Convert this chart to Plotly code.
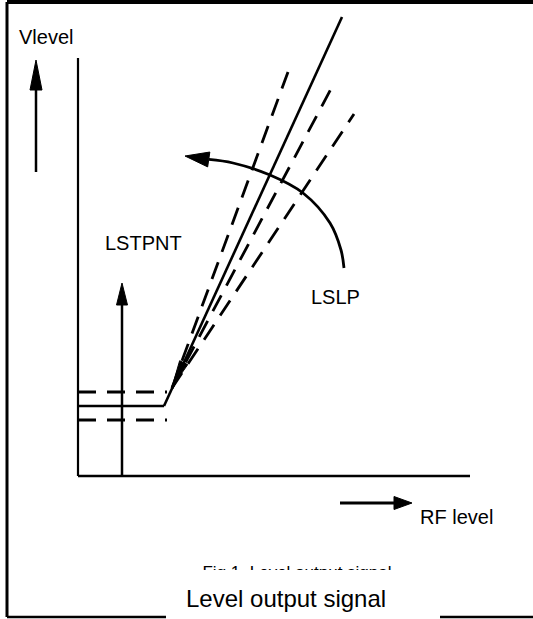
import math
import plotly.graph_objects as go

# ---------------- diagram data ----------------
# units: horizontal = RF level, vertical = Vlevel; origin at the axes corner
axis_x_rf = [0, 392]
axis_x_v = [0, 0]
axis_y_rf = [0, 0]
axis_y_v = [0, 418]

floor_rf = [0, 86]
floor_v = [70, 70]
band_rf = [0, 89]
band_hi_v = [84, 84]
band_lo_v = [56, 56]

slope_rf = [86, 264]
slope_v = [70, 459]

alt_start_rf = 94
alt_start_v = 88
alt_end_rf = [210, 254, 276]
alt_end_v = [404, 389, 362]

lstpnt_rf = [44, 44]
lstpnt_v = [-1, 193]

vlevel_arrow_rf = [-42, -42]
vlevel_arrow_v = [304, 416]

rf_arrow_rf = [262, 334]
rf_arrow_v = [-27, -27]

lslp_curve_rf = [266, 263, 252, 225, 192, 155, 107]
lslp_curve_v = [208, 226, 253, 283, 301, 313, 320]

knee_head_rf = [106, 94]
knee_head_v = [114, 89]

label_text = ["Vlevel", "LSTPNT", "LSLP", "RF level"]
label_rf = [-61, 25, 231, 340]
label_v = [439, 233, 179, -41]

caption_text = "Fig 1. Level output signal"
caption_rf = 219
caption_v = -98
title_text = "Level output signal"
title_rf = 208
title_v = -122
title_box_rf = [88, 362]
title_box_v = [-94, -143]

# frame (left, top, bottom pieces)
frame_left_rf = [-71, -71]
frame_left_v = [474, -141]
frame_top_rf = [-71, 455]
frame_top_v = [474, 474]
frame_bot1_rf = [-71, 88]
frame_bot2_rf = [362, 455]
frame_bot_v = [-141, -141]

BLACK = "#000000"
FONT = "Liberation Sans, Arial, sans-serif"
DASH = "18px,11px"

fig = go.Figure()


def line(xs, ys, width=2, dash="solid", shape="linear"):
    fig.add_trace(go.Scatter(x=xs, y=ys, mode="lines",
                             line=dict(color=BLACK, width=width, dash=dash, shape=shape),
                             hoverinfo="skip"))


def head_points(x0, y0, x1, y1, length, width):
    dx, dy = x1 - x0, y1 - y0
    n = math.hypot(dx, dy)
    ux, uy = dx / n, dy / n
    bx, by = x1 - ux * length, y1 - uy * length
    px, py = -uy * width / 2, ux * width / 2
    return (bx, by), [x1, bx + px, bx - px, x1], [y1, by + py, by - py, y1]


def arrow(xs, ys, length, width, lw=2.5, shape="linear"):
    base, hx, hy = head_points(xs[-2], ys[-2], xs[-1], ys[-1], length, width)
    line(list(xs[:-1]) + [base[0]], list(ys[:-1]) + [base[1]], width=lw, shape=shape)
    fig.add_trace(go.Scatter(x=hx, y=hy, mode="lines", fill="toself",
                             fillcolor=BLACK, line=dict(color=BLACK, width=1),
                             hoverinfo="skip"))


# caption (partly hidden behind the title box)
fig.add_trace(go.Scatter(x=[caption_rf], y=[caption_v], mode="text", text=[caption_text],
                         textposition="middle center",
                         textfont=dict(family=FONT, size=17, color=BLACK), hoverinfo="skip"))

# frame
line(frame_left_rf, frame_left_v, width=3)
line(frame_top_rf, frame_top_v, width=4)
line(frame_bot1_rf, frame_bot_v, width=2.5)
line(frame_bot2_rf, frame_bot_v, width=2.5)

# axes
line(axis_y_rf, axis_y_v, width=2.2)
line(axis_x_rf, axis_x_v, width=2.5)

# level characteristic
line(floor_rf, floor_v, width=2.6)
line(band_rf, band_hi_v, width=3, dash=DASH)
line(band_rf, band_lo_v, width=3, dash=DASH)
line(slope_rf, slope_v, width=2.6)
for ex, ey in zip(alt_end_rf, alt_end_v):
    line([alt_start_rf, ex], [alt_start_v, ey], width=2.8, dash=DASH)

# arrows
arrow(vlevel_arrow_rf, vlevel_arrow_v, 30, 12)
arrow(lstpnt_rf, lstpnt_v, 22, 11)
arrow(rf_arrow_rf, rf_arrow_v, 18, 13, lw=2.8)
arrow(lslp_curve_rf, lslp_curve_v, 24, 15, lw=2.8, shape="spline")
_, khx, khy = head_points(knee_head_rf[0], knee_head_v[0], knee_head_rf[1], knee_head_v[1], 27, 9)
fig.add_trace(go.Scatter(x=khx, y=khy, mode="lines", fill="toself", fillcolor=BLACK,
                         line=dict(color=BLACK, width=1), hoverinfo="skip"))

annotations = []
for t, x, y in zip(label_text, label_rf, label_v):
    annotations.append(dict(x=x, y=y, xref="x", yref="y", text=t, showarrow=False,
                            xanchor="left", yanchor="middle",
                            font=dict(family=FONT, size=20, color=BLACK)))
annotations.append(dict(x=title_rf, y=title_v, xref="x", yref="y", text=title_text,
                        showarrow=False, xanchor="center", yanchor="middle",
                        font=dict(family=FONT, size=24, color=BLACK)))

shapes = [dict(type="rect", xref="x", yref="y",
               x0=title_box_rf[0], x1=title_box_rf[1], y0=title_box_v[0], y1=title_box_v[1],
               fillcolor="#ffffff", line=dict(width=0), layer="above")]

fig.update_layout(
    width=533, height=619,
    margin=dict(l=0, r=0, t=0, b=0),
    paper_bgcolor="#ffffff", plot_bgcolor="#ffffff",
    showlegend=False,
    xaxis=dict(range=[-78, 455], visible=False, fixedrange=True),
    yaxis=dict(range=[-143, 476], visible=False, fixedrange=True),
    annotations=annotations,
    shapes=shapes,
)

fig.write_html(
    "out.html",
    config={"displayModeBar": False},
    post_script="document.body.style.margin='0px';document.body.style.overflow='hidden';",
)
